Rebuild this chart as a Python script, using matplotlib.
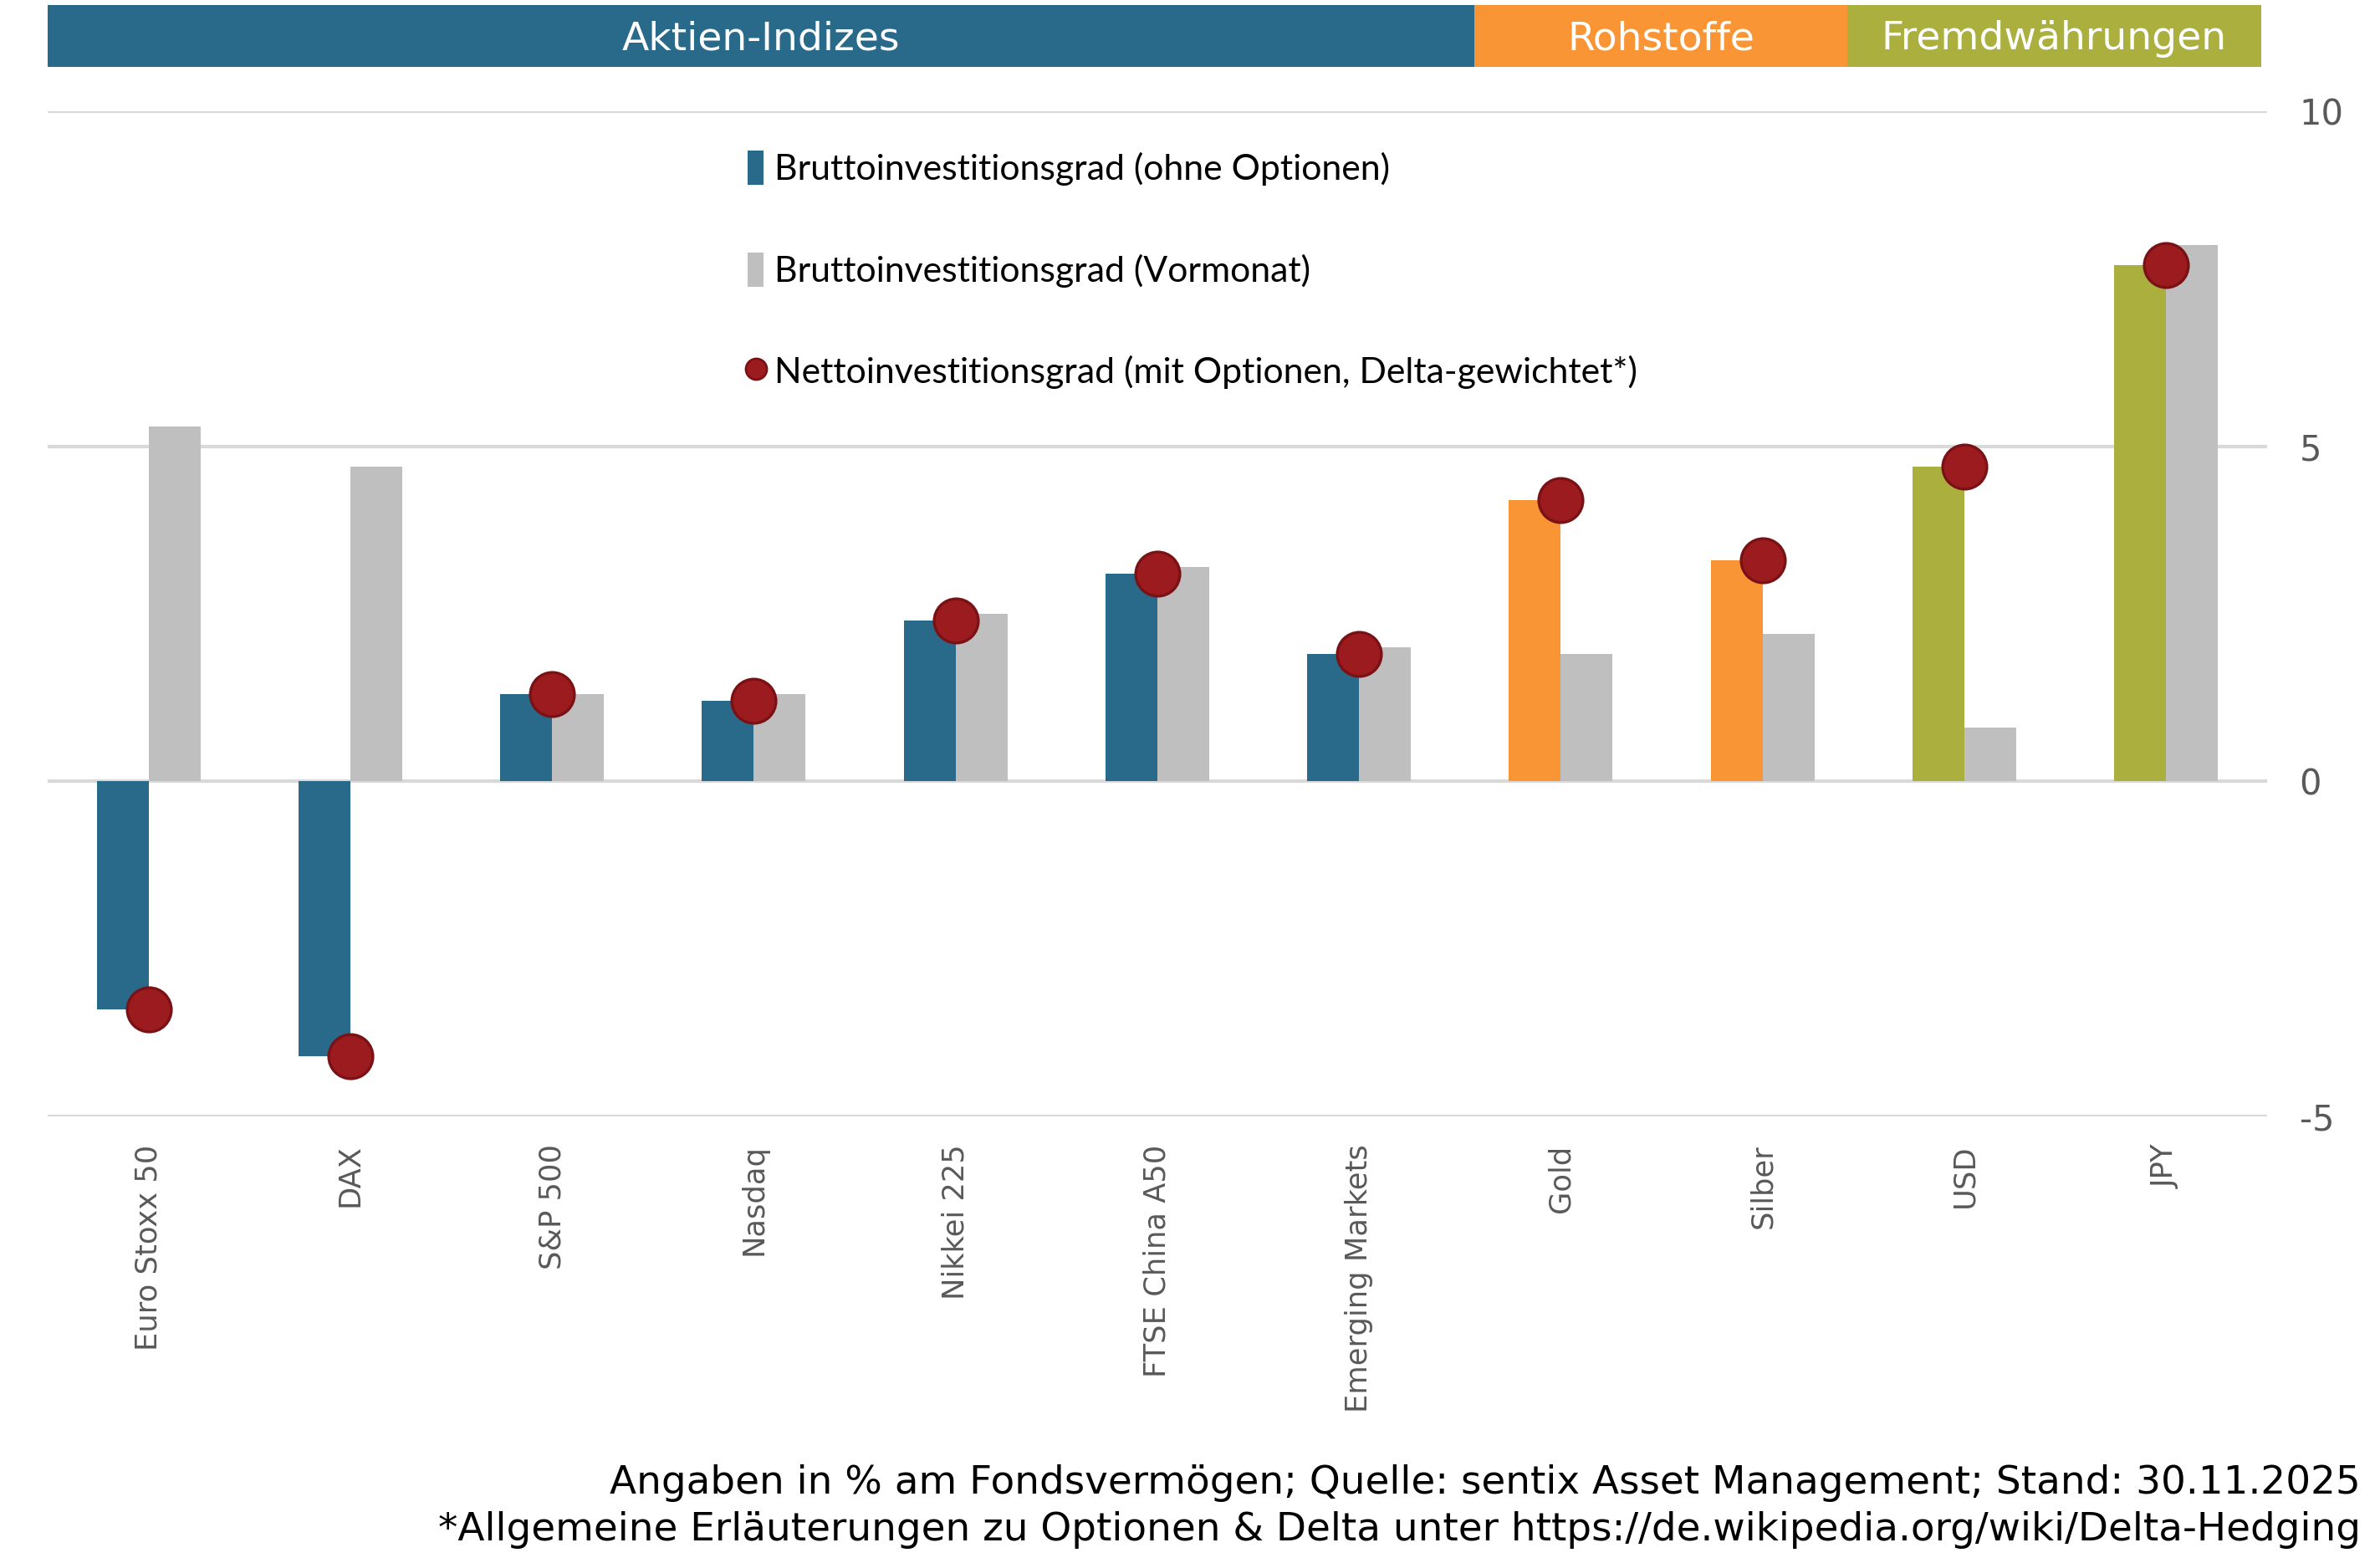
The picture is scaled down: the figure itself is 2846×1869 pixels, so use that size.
import matplotlib
matplotlib.use("Agg")
import matplotlib.pyplot as plt
from matplotlib.patches import Patch
from matplotlib.lines import Line2D
import numpy as np

plt.rcParams["axes.unicode_minus"] = False

categories = ["Euro Stoxx 50", "DAX", "S&P 500", "Nasdaq", "Nikkei 225",
              "FTSE China A50", "Emerging Markets", "Gold", "Silber", "USD", "JPY"]
groups = ["Aktien-Indizes"] * 7 + ["Rohstoffe"] * 2 + ["Fremdwährungen"] * 2
brutto = [-3.4, -4.1, 1.3, 1.2, 2.4, 3.1, 1.9, 4.2, 3.3, 4.7, 7.7]
vormonat = [5.3, 4.7, 1.3, 1.3, 2.5, 3.2, 2.0, 1.9, 2.2, 0.8, 8.0]
netto = [-3.4, -4.1, 1.3, 1.2, 2.4, 3.1, 1.9, 4.2, 3.3, 4.7, 7.7]
yticks = [-5, 0, 5, 10]

group_names = ["Aktien-Indizes", "Rohstoffe", "Fremdwährungen"]
group_colors = {"Aktien-Indizes": "#296A8B", "Rohstoffe": "#F99535", "Fremdwährungen": "#ABAF3E"}
GRAY = "#BFBFBF"
DOT = "#9B1B1F"
DOT_EDGE = "#7A1215"

fig = plt.figure(figsize=(14.23, 9.345), dpi=200)
ax = fig.add_axes([0.020, 0.2857, 0.9325, 0.6431])

x = np.arange(len(categories))
w = 0.257
bar_cols = [group_colors[g] for g in groups]
ax.bar(x - w / 2, brutto, width=w, color=bar_cols, zorder=2)
ax.bar(x + w / 2, vormonat, width=w, color=GRAY, zorder=2)
ax.plot(x, netto, linestyle="none", marker="o", markersize=19,
        markerfacecolor=DOT, markeredgecolor=DOT_EDGE, markeredgewidth=1.2, zorder=3)

ax.set_xlim(-0.5, len(categories) - 0.5)
ax.set_ylim(-5, 10)
ax.set_yticks(yticks)
ax.yaxis.tick_right()
ax.tick_params(axis="y", length=0, pad=14, labelsize=15, labelcolor="#595959")
for lab in ax.get_yticklabels():
    lab.set_horizontalalignment("left")
ax.set_xticks(x)
ax.set_xticklabels(categories, rotation=90, fontsize=12.7, color="#595959")
ax.tick_params(axis="x", length=0, pad=12)
ax.grid(axis="y", color="#D9D9D9", linewidth=1.5, zorder=0)
for s in ax.spines.values():
    s.set_visible(False)

handles = [Patch(facecolor=group_colors["Aktien-Indizes"]),
           Patch(facecolor=GRAY),
           Line2D([], [], linestyle="none", marker="o", markersize=9,
                  markerfacecolor=DOT, markeredgecolor=DOT_EDGE)]
labels = ["Bruttoinvestitionsgrad (ohne Optionen)",
          "Bruttoinvestitionsgrad (Vormonat)",
          "Nettoinvestitionsgrad (mit Optionen, Delta-gewichtet*)"]
leg = ax.legend(handles, labels, loc="upper left", bbox_to_anchor=(0.301, 0.993),
                frameon=False, labelspacing=1.86, handlelength=0.45,
                handleheight=1.1, handletextpad=0.3, prop={"family": "Lato", "size": 15.4})

# category header band
hax = fig.add_axes([0.020, 0.957, 0.9325, 0.040])
bounds = [-0.5, 6.57, 8.42, 10.47]
for i, g in enumerate(group_names):
    hax.axvspan(bounds[i], bounds[i + 1], color=group_colors[g], lw=0)
    hax.text((bounds[i] + bounds[i + 1]) / 2, 0.45, g, ha="center", va="center",
             color="white", fontsize=17)
hax.set_xlim(-0.5, len(categories) - 0.5)
hax.set_ylim(0, 1)
hax.axis("off")

fig.text(0.992, 0.051, "Angaben in % am Fondsvermögen; Quelle: sentix Asset Management; Stand: 30.11.2025",
         ha="right", va="center", fontsize=16.9, color="black")
fig.text(0.992, 0.021, "*Allgemeine Erläuterungen zu Optionen & Delta unter https://de.wikipedia.org/wiki/Delta-Hedging",
         ha="right", va="center", fontsize=16.9, color="black")

fig.savefig("out.png", dpi=200)
